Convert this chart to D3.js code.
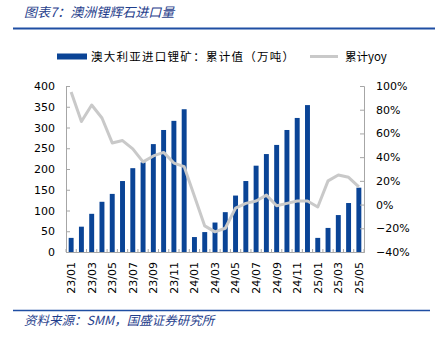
<!DOCTYPE html>
<html>
<head>
<meta charset="utf-8">
<script src="https://cdn.jsdelivr.net/npm/d3@7"></script>
<style>
  body { margin: 0; background: #fff; }
  svg { display: block; }
</style>
</head>
<body>
<script>
// months on the x axis
var months = ["23/01","23/02","23/03","23/04","23/05","23/06","23/07","23/08","23/09","23/10","23/11","23/12",
              "24/01","24/02","24/03","24/04","24/05","24/06","24/07","24/08","24/09","24/10","24/11","24/12",
              "25/01","25/02","25/03","25/04","25/05"];
// 澳大利亚进口锂矿：累计值（万吨）
var volume = [34, 61, 92, 121, 140, 171, 202, 216, 260, 294, 316, 344,
              36, 48, 71, 96, 136, 171, 208, 236, 258, 294, 323, 354,
              34, 58, 89, 118, 155];
// 累计yoy (%)
var yoy = [95, 70, 84, 73, 52, 54, 47, 36, 41, 44, 35, 32,
           7, -18, -23, -20, -3, 1, 3, 8, -1, 1, 3, 3,
           -2, 20, 25, 23, 15];
var leftTicks = [0, 50, 100, 150, 200, 250, 300, 350, 400];
var rightTicks = [-0.4, -0.2, 0, 0.2, 0.4, 0.6, 0.8, 1.0];
var xLabels = months.filter(function (d, i) { return i % 2 === 0; });

var W = 435, H = 337;
var blue = "#0a4496";
var grey = "#c9c9c9";
var axisCol = "#a6a6a6";
var numFont = "'DejaVu Sans', Verdana, sans-serif";
var cjkFont = "'Noto Sans CJK SC', sans-serif";

var svg = d3.select("body").append("svg")
    .attr("width", W)
    .attr("height", H);

// title + rules
svg.append("text")
    .attr("x", 24).attr("y", 17)
    .attr("font-family", cjkFont)
    .attr("font-size", 13)
    .attr("font-style", "italic")
    .attr("fill", "#1f3e8c")
    .text("图表7：澳洲锂辉石进口量");

svg.append("line")
    .attr("x1", 13).attr("x2", 435).attr("y1", 28.5).attr("y2", 28.5)
    .attr("stroke", "#1f4ea3").attr("stroke-width", 2);

svg.append("line")
    .attr("x1", 13).attr("x2", 430).attr("y1", 310.5).attr("y2", 310.5)
    .attr("stroke", "#1f4ea3").attr("stroke-width", 1.5);

svg.append("text")
    .attr("x", 24).attr("y", 325)
    .attr("font-family", cjkFont)
    .attr("font-size", 12.5)
    .attr("font-style", "italic")
    .attr("fill", "#1f3e8c")
    .text("资料来源：SMM，国盛证券研究所");

// scales
var plot = {left: 66, right: 364, top: 86, bottom: 252};

var x = d3.scaleBand()
    .domain(months)
    .range([plot.left, plot.right])
    .paddingInner(0.52)
    .paddingOuter(0.26);

var yL = d3.scaleLinear().domain([0, 400]).range([plot.bottom, plot.top]);
var yR = d3.scaleLinear().domain([-0.4, 1.0]).range([plot.bottom, plot.top]);

// bars
svg.append("g")
  .selectAll("rect")
  .data(volume)
  .enter().append("rect")
    .attr("x", function (d, i) { return x(months[i]); })
    .attr("width", x.bandwidth())
    .attr("y", function (d) { return yL(d); })
    .attr("height", function (d) { return yL(0) - yL(d); })
    .attr("fill", blue);

// axes
var gL = svg.append("g")
    .attr("transform", "translate(" + plot.left + ",0)")
    .call(d3.axisLeft(yL).tickValues(leftTicks).tickSize(-4).tickPadding(11));

var gR = svg.append("g")
    .attr("transform", "translate(" + plot.right + ",0)")
    .call(d3.axisRight(yR).tickValues(rightTicks).tickSize(-4).tickPadding(12)
      .tickFormat(d3.format(".0%")));

var step = x.step();
var gB = svg.append("g")
    .attr("transform", "translate(0," + plot.bottom + ")")
    .call(d3.axisBottom(x).tickValues(xLabels).tickSize(0).tickPadding(0));

// band boundary ticks on the x axis
svg.append("g")
  .selectAll("line")
  .data(d3.range(months.length + 1))
  .enter().append("line")
    .attr("x1", function (i) { return plot.left + i * step; })
    .attr("x2", function (i) { return plot.left + i * step; })
    .attr("y1", plot.bottom)
    .attr("y2", plot.bottom - 3)
    .attr("stroke", axisCol);

[gL, gR, gB].forEach(function (g) {
  g.select(".domain").attr("stroke", axisCol);
  g.selectAll(".tick line").attr("stroke", axisCol);
  g.selectAll("text")
    .attr("font-family", numFont)
    .attr("font-size", 11)
    .attr("fill", "#000");
});

gB.selectAll("text")
    .attr("transform", "rotate(-90)")
    .attr("text-anchor", "end")
    .attr("dy", "0.35em")
    .attr("x", -10)
    .attr("y", 0);

// yoy line
var line = d3.line()
    .x(function (d, i) { return x(months[i]) + x.bandwidth() / 2; })
    .y(function (d) { return yR(d / 100); });

svg.append("path")
    .datum(yoy)
    .attr("d", line)
    .attr("fill", "none")
    .attr("stroke", grey)
    .attr("stroke-width", 3)
    .attr("stroke-linejoin", "round");

// legend
var lg = svg.append("g");
lg.append("rect")
    .attr("x", 57).attr("y", 53.5).attr("width", 30).attr("height", 6)
    .attr("fill", blue);
lg.append("text")
    .attr("x", 91).attr("y", 60.5)
    .attr("font-family", cjkFont)
    .attr("font-size", 11.5)
    .attr("textLength", 203)
    .attr("lengthAdjust", "spacing")
    .text("澳大利亚进口锂矿：累计值（万吨）");
lg.append("line")
    .attr("x1", 310).attr("x2", 338).attr("y1", 56.5).attr("y2", 56.5)
    .attr("stroke", grey).attr("stroke-width", 3);
lg.append("text")
    .attr("x", 345).attr("y", 60.5)
    .attr("font-family", cjkFont)
    .attr("font-size", 11.5)
    .text("累计yoy");
</script>
</body>
</html>
